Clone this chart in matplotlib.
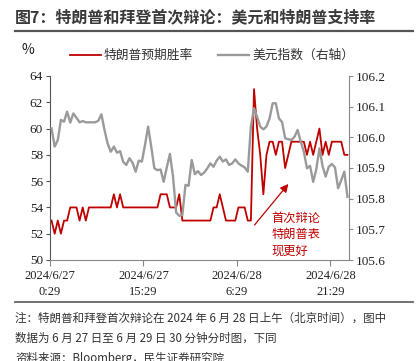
import matplotlib
matplotlib.use("Agg")
import matplotlib.pyplot as plt
import numpy as np
from matplotlib.lines import Line2D

plt.rcParams['font.family'] = ['Noto Sans CJK SC', 'DejaVu Sans']

# ---- data ----
trump_odds = [53, 52, 53, 52, 53, 53, 54, 54, 54, 53,
              54, 53, 54, 54, 54, 54, 54, 54, 54, 54,
              55, 54, 55, 54, 54, 54, 54, 54, 54, 54,
              54, 54, 54, 54, 54, 55, 55, 55, 54, 54,
              54, 55, 53, 53, 53, 53, 53, 53, 53, 53,
              53, 53, 54, 54, 55, 54, 53, 53, 53, 53,
              54, 54, 54, 53, 53, 63, 60, 58, 55, 58,
              59, 59, 58, 59, 59, 57, 58, 59, 59, 59,
              59, 59, 58, 59, 58, 59, 60, 58, 59, 58,
              59, 59, 59, 59, 58, 58]
dxy = [106.029, 105.970, 105.991, 106.057, 106.051, 106.084, 106.048, 106.078, 106.064, 106.049,
       106.053, 106.049, 106.049, 106.049, 106.049, 106.054, 106.075, 106.024, 105.980, 105.953,
       105.970, 105.950, 105.955, 105.920, 105.910, 105.932, 105.917, 105.888, 105.924, 105.921,
       105.975, 106.035, 105.970, 105.899, 105.893, 105.895, 105.855, 105.902, 105.946, 105.872,
       105.755, 105.744, 105.747, 105.845, 105.842, 105.926, 105.880, 105.890, 105.877, 105.885,
       105.899, 105.915, 105.904, 105.924, 105.937, 105.921, 105.928, 105.910, 105.915, 105.928,
       105.915, 105.908, 105.902, 105.888, 106.035, 106.095, 106.067, 106.035, 106.026, 106.035,
       106.062, 106.111, 106.111, 106.062, 106.050, 105.997, 105.994, 105.991, 106.002, 106.024,
       105.986, 105.953, 105.899, 105.907, 105.855, 105.896, 105.964, 105.907, 105.872, 105.904,
       105.913, 105.902, 105.834, 105.860, 105.888, 105.806]
xtick_labels = ["2024/6/27\n0:29", "2024/6/27\n15:29", "2024/6/28\n6:29", "2024/6/28\n21:29"]
xtick_idx = [0, 30, 60, 90]
left_ticks = [50, 52, 54, 56, 58, 60, 62, 64]
right_ticks = [105.6, 105.7, 105.8, 105.9, 106.0, 106.1, 106.2]

title = "图7：特朗普和拜登首次辩论：美元和特朗普支持率"
legend_labels = ["特朗普预期胜率", "美元指数（右轴）"]
annot_text = "首次辩论\n特朗普表\n现更好"
note_lines = ["注：特朗普和拜登首次辩论在 2024 年 6 月 28 日上午（北京时间），图中",
              "数据为 6 月 27 日至 6 月 29 日 30 分钟分时图，下同",
              "资料来源：Bloomberg，民生证券研究院"]

RED = '#C00000'
GRAY = '#9A9A9A'
W, H = 418, 361

fig = plt.figure(figsize=(W/100, H/100), dpi=100)
ax = fig.add_axes([50/W, 1-260/H, (349-50)/W, (260-76)/H])
ax2 = ax.twinx()

x = np.arange(len(trump_odds)) + 0.5
ax.plot(x, trump_odds, color=RED, lw=1.3)
ax2.plot(x, dxy, color=GRAY, lw=1.7)

ax.set_xlim(0, len(trump_odds))
ax.set_ylim(50, 64)
ax2.set_ylim(105.6, 106.2)
ax.set_yticks(left_ticks)
ax.set_yticklabels([str(v) for v in left_ticks])
ax2.set_yticks(right_ticks)
ax2.set_yticklabels([f"{v:.1f}" for v in right_ticks])
ax.set_xticks(xtick_idx)
ax.set_xticklabels(xtick_labels)

for lab in ax.get_xticklabels():
    lab.set_fontfamily('Liberation Serif'); lab.set_fontsize(9); lab.set_linespacing(1.45)
    lab.set_multialignment('center'); lab.set_color('#222222')
for lab in ax.get_yticklabels() + ax2.get_yticklabels():
    lab.set_fontfamily('Liberation Serif'); lab.set_fontsize(9.5); lab.set_color('#222222')

for a in (ax, ax2):
    a.spines['top'].set_visible(False)
ax.spines['right'].set_visible(False)
ax2.spines['left'].set_visible(False)
ax2.spines['bottom'].set_visible(False)
ax.spines['left'].set_color('#555555')
ax.spines['bottom'].set_color('#888888')
ax2.spines['right'].set_color('#888888')
ax.tick_params(axis='y', direction='out', length=3, color='#555555', pad=2)
ax.tick_params(axis='x', direction='out', length=4, color='#888888', pad=3)
ax2.tick_params(axis='y', direction='out', length=3, color='#888888', pad=2)

# annotation
ax.annotate("", xy=(77.1, 55.95), xytext=(65.1, 52.5),
            arrowprops=dict(arrowstyle='-|>', color=RED, lw=0.9, mutation_scale=12))
ax.text(71.0, 53.7, annot_text, color=RED, fontsize=8.8, va='top', ha='left', linespacing=1.35)

# title and rules
fig.text(15/W, 1-17/H, title, fontsize=11.5, fontweight='bold', color='#3a3a3a', va='center', ha='left')
fig.add_artist(Line2D([15/W, 413/W], [1-31/H, 1-31/H], color='#555555', lw=1.6))
fig.add_artist(Line2D([15/W, 413/W], [1-302/H, 1-302/H], color='#666666', lw=1.3))

# legend
fig.text(22/W, 1-50/H, "%", fontsize=10, color='#222222', va='center', ha='left')
ly = 1-55/H
fig.add_artist(Line2D([70/W, 101/W], [ly, ly], color=RED, lw=1.3))
fig.text(104/W, ly, legend_labels[0], fontsize=9.2, color='#333333', va='center', ha='left')
fig.add_artist(Line2D([218/W, 249/W], [ly, ly], color=GRAY, lw=1.7))
fig.text(252/W, ly, legend_labels[1], fontsize=9.2, color='#333333', va='center', ha='left')

# notes
for i, t in enumerate(note_lines):
    fig.text(15/W, 1-(318+20*i)/H, t, fontsize=8.3, color='#333333', va='center', ha='left')

fig.savefig("out.png", dpi=100)
